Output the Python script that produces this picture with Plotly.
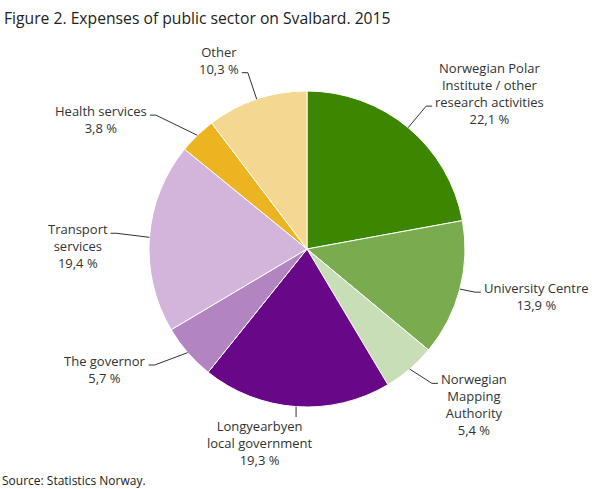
import numpy as np
import plotly.graph_objects as go

# data
categories = [
    "Norwegian Polar<br>Institute / other<br>research activities",
    "University Centre",
    "Norwegian<br>Mapping<br>Authority",
    "Longyearbyen<br>local government",
    "The governor",
    "Transport<br>services",
    "Health services",
    "Other",
]
shares = [22.1, 13.9, 5.4, 19.3, 5.7, 19.4, 3.8, 10.3]

colors = ["#3d8600", "#7aab4e", "#c7deb6", "#680787",
          "#b285c2", "#d3b5db", "#ebb420", "#f4d891"]

# label layout tweaks: which text row the leader line meets,
# and small shifts of the elbow so labels don't crowd
attach_row = {0: 2, 7: 1}
elbow_shift = {1: (-12, -4), 2: (4, -7), 4: (-12, -6), 5: (-5, -2), 6: (-22, 0)}

W, H = 608, 489
CX, CY, R = 307, 249, 158
FONT = "Open Sans, Noto Sans, sans-serif"
LSIZE = 13
LH = LSIZE * 1.3


def px(x):
    return x / W


def py(y):
    return 1 - y / H


fig = go.Figure()
fig.add_trace(go.Pie(
    labels=[c.replace("<br>", " ") for c in categories],
    values=shares,
    sort=False,
    direction="clockwise",
    rotation=0,
    textinfo="none",
    hoverinfo="label+percent",
    marker=dict(colors=colors, line=dict(color="white", width=1)),
    domain=dict(x=[px(CX - R), px(CX + R)], y=[py(CY + R), py(CY - R)]),
    showlegend=False,
))

# leader lines + labels, placed from the slice angles
vals = np.array(shares)
mid = (np.cumsum(vals) - vals / 2) / vals.sum() * 2 * np.pi
shapes = []
annotations = []
for i, a in enumerate(mid):
    ux, uy = np.sin(a), -np.cos(a)
    ex, ey = CX + R * ux, CY + R * uy
    txt = categories[i] + "<br>" + f"{shares[i]:.1f}".replace(".", ",") + " %"
    lfont = dict(family=FONT, size=LSIZE, color="#333")
    if abs(ux) < 0.2 and uy > 0:
        # bottom label: short vertical line, text underneath
        bx, by = ex, CY + R + 10
        path = f"M{px(ex)},{py(ey)} L{px(bx)},{py(by)}"
        annotations.append(dict(
            x=px(bx - 37), y=py(by - 2), xref="paper", yref="paper",
            text=txt, showarrow=False, xanchor="center", yanchor="top",
            align="center", font=lfont))
    else:
        D = 28
        dx, dy = elbow_shift.get(i, (0, 0))
        bx, by = CX + (R + D) * ux + dx, CY + (R + D) * uy + dy
        side = 1 if ux > 0 else -1
        hx = bx + side * 6
        path = f"M{px(ex)},{py(ey)} L{px(bx)},{py(by)} L{px(hx)},{py(by)}"
        row = attach_row.get(i, 0)
        top = by - (row + 0.5) * LH - 6.5
        annotations.append(dict(
            x=px(hx + side * 1), y=py(top), xref="paper", yref="paper",
            text=txt, showarrow=False,
            xanchor="left" if side > 0 else "right", yanchor="top",
            align="center", font=lfont))
    shapes.append(dict(type="path", path=path, xref="paper", yref="paper",
                       line=dict(color="#333", width=1)))

annotations.append(dict(
    x=px(2), y=py(18), xref="paper", yref="paper", showarrow=False,
    text="Figure 2. Expenses of public sector on Svalbard. 2015",
    xanchor="left", yanchor="middle",
    font=dict(family=FONT, size=15.7, color="#222")))
annotations.append(dict(
    x=px(0), y=py(480), xref="paper", yref="paper", showarrow=False,
    text="Source: Statistics Norway.",
    xanchor="left", yanchor="middle",
    font=dict(family=FONT, size=12, color="#222")))

fig.update_layout(
    width=W, height=H,
    margin=dict(l=0, r=0, t=0, b=0),
    paper_bgcolor="white",
    plot_bgcolor="white",
    shapes=shapes,
    annotations=annotations,
)

fig.write_html("out.html", config={"displayModeBar": False},
               post_script="document.body.style.margin='0';")
